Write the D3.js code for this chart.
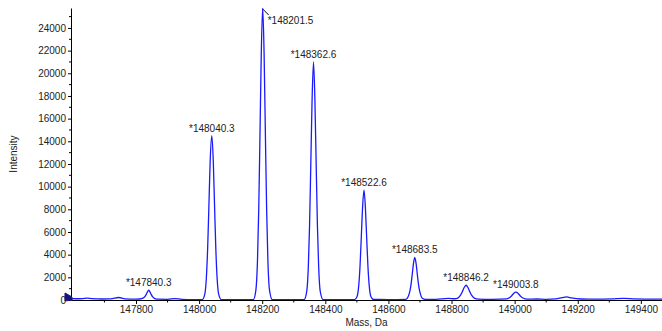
<!DOCTYPE html>
<html>
<head>
<meta charset="utf-8">
<script src="https://cdn.jsdelivr.net/npm/d3@7/dist/d3.min.js"></script>
<style>
  html, body { margin: 0; padding: 0; background: #fff; }
  svg { display: block; font-family: "Liberation Sans", Arial, sans-serif; }
</style>
</head>
<body>
<svg id="chart" width="662" height="331"></svg>
<script>
// ---- data ----
const massDa = [
  147594,147610,147630,147645,147660,147690,147720,147745,147765,147800,
  147812,147822,147828,147832,147836,147840.3,147844,147848,147853,147860,147870,147900,147923,147945,147980,148010,
  148018,148023,148027,148031,148035,148040.3,148045,148049,148053,148057,148062,148070,148100,148150,148172,
  148180,148185,148189,148193,148197,148201.5,148206,148210,148214,148218,148223,148232,148280,148333,
  148341,148346,148350,148354,148358,148362.6,148367,148371,148375,148379,148384,148393,148440,148493,
  148501,148506,148510,148514,148518,148522.6,148527,148531,148535,148539,148544,148553,148600,148655,
  148660,148666,148671,148675,148679,148683.5,148688,148692,148696,148701,148707,148718,148750,148790,148810,
  148820,148828,148834,148840,148846.2,148852,148858,148864,148872,148885,148930,148975,
  148982,148990,148997,149003.8,149011,149018,149026,149040,149070,149100,149130,149150,149165,149180,149210,
  149260,149310,149345,149380,149420,149467
];
const intensity = [
  120,110,130,170,130,90,100,220,100,80,
  90,160,300,480,700,860,720,500,270,120,70,60,130,60,30,30,
  510,1960,4500,8270,12200,14500,12200,8270,4500,1960,510,40,20,20,40,
  900,3480,8000,14700,21700,25800,21700,14700,8000,3480,900,40,20,40,
  735,2840,6500,12000,17600,21000,17600,12000,6500,2840,735,40,30,40,
  340,1310,3000,5530,8150,9700,8150,5530,3000,1310,340,50,40,60,
  160,560,1250,2150,3150,3750,3150,2150,1250,560,160,60,60,140,110,
  170,400,720,1100,1300,1100,720,400,170,80,60,100,
  180,360,580,690,580,360,180,80,90,60,100,200,270,180,90,
  70,100,150,100,80,70
];

const peakLabels = ["*147840.3","*148040.3","*148201.5","*148362.6","*148522.6","*148683.5","*148846.2","*149003.8"];
const peakMass   = [147840.3, 148040.3, 148201.5, 148362.6, 148522.6, 148683.5, 148846.2, 149003.8];
const peakHeight = [860, 14500, 25800, 21000, 9700, 3750, 1300, 690];

const xTickValues = [147800, 148000, 148200, 148400, 148600, 148800, 149000, 149200, 149400];
const yTickValues = [0, 2000, 4000, 6000, 8000, 10000, 12000, 14000, 16000, 18000, 20000, 22000, 24000];

// ---- layout ----
const svg = d3.select("#chart");
const pL = 71, pR = 662, pT = 8, pB = 300;

const x = d3.scaleLinear().domain([147594, 149467]).range([pL, pR]);
const y = d3.scaleLinear().domain([0, 25760]).range([pB, pT]);

svg.append("defs").append("clipPath").attr("id", "plotclip")
  .append("rect").attr("x", pL).attr("y", pT).attr("width", pR - pL).attr("height", pB - pT + 2);

// spectrum
const pts = massDa.map((m, i) => [m, intensity[i]]);
svg.append("path")
  .attr("clip-path", "url(#plotclip)")
  .attr("d", d3.line().x(d => x(d[0])).y(d => y(d[1])).curve(d3.curveMonotoneX)(pts))
  .attr("fill", "none")
  .attr("stroke", "#1a1aff")
  .attr("stroke-width", 1.3);

// X axis
const xAxis = d3.axisBottom(x).tickValues(xTickValues).tickFormat(d3.format("d")).tickSize(4).tickSizeOuter(0);
const gx = svg.append("g").attr("transform", `translate(0,${pB})`).call(xAxis);
gx.select(".domain").attr("stroke", "#000");
gx.selectAll(".tick line").attr("stroke", "#000");
gx.selectAll(".tick text").attr("fill", "#222").attr("font-size", 10).attr("dy", "0.6em")
  .attr("font-family", "Liberation Sans, Arial, sans-serif");
const xMinor = d3.range(147600, 149467, 100).filter(v => v % 200 !== 0);
svg.append("g").selectAll("line").data(xMinor).join("line")
  .attr("x1", d => x(d)).attr("x2", d => x(d)).attr("y1", pB).attr("y2", pB + 2.5)
  .attr("stroke", "#000");

// Y axis
const yAxis = d3.axisLeft(y).tickValues(yTickValues).tickFormat(d3.format("d")).tickSize(3).tickSizeOuter(0);
const gy = svg.append("g").attr("transform", `translate(${pL},0)`).call(yAxis);
gy.select(".domain").attr("stroke", "#000");
gy.selectAll(".tick line").attr("stroke", "#000");
gy.selectAll(".tick text").attr("fill", "#222").attr("font-size", 10).attr("x", -5)
  .attr("font-family", "Liberation Sans, Arial, sans-serif");
const yMinor = d3.range(1000, 25760, 2000);
svg.append("g").selectAll("line").data(yMinor).join("line")
  .attr("x1", pL - 2).attr("x2", pL).attr("y1", d => y(d)).attr("y2", d => y(d))
  .attr("stroke", "#000");

// start marker at origin
svg.append("path")
  .attr("d", `M${pL - 6},${pB - 7} L${pL + 1},${pB - 3} L${pL + 1},${pB} L${pL - 6},${pB + 1} Z`)
  .attr("fill", "#15157a").attr("stroke", "#15157a").attr("stroke-width", 1);

// axis titles
svg.append("text").attr("x", (pL + pR) / 2).attr("y", 326)
  .attr("text-anchor", "middle").attr("font-size", 10).attr("fill", "#222").text("Mass, Da");
svg.append("text").attr("transform", `translate(17,${(pT + pB) / 2}) rotate(-90)`)
  .attr("text-anchor", "middle").attr("font-size", 10).attr("fill", "#222").text("Intensity");

// peak labels
peakLabels.forEach((lab, i) => {
  const px = x(peakMass[i]), py = y(peakHeight[i]);
  if (i === 2) {
    const ty = Math.max(py, pT);
    svg.append("line").attr("x1", px).attr("y1", ty + 1).attr("x2", px + 6).attr("y2", ty + 7)
      .attr("stroke", "#000").attr("stroke-width", 1);
    svg.append("text").attr("x", px + 5).attr("y", 24).attr("font-size", 10).attr("fill", "#222").text(lab);
  } else {
    svg.append("text").attr("x", px).attr("y", py - 4).attr("text-anchor", "middle")
      .attr("font-size", 10).attr("fill", "#222").text(lab);
  }
});
</script>
</body>
</html>
